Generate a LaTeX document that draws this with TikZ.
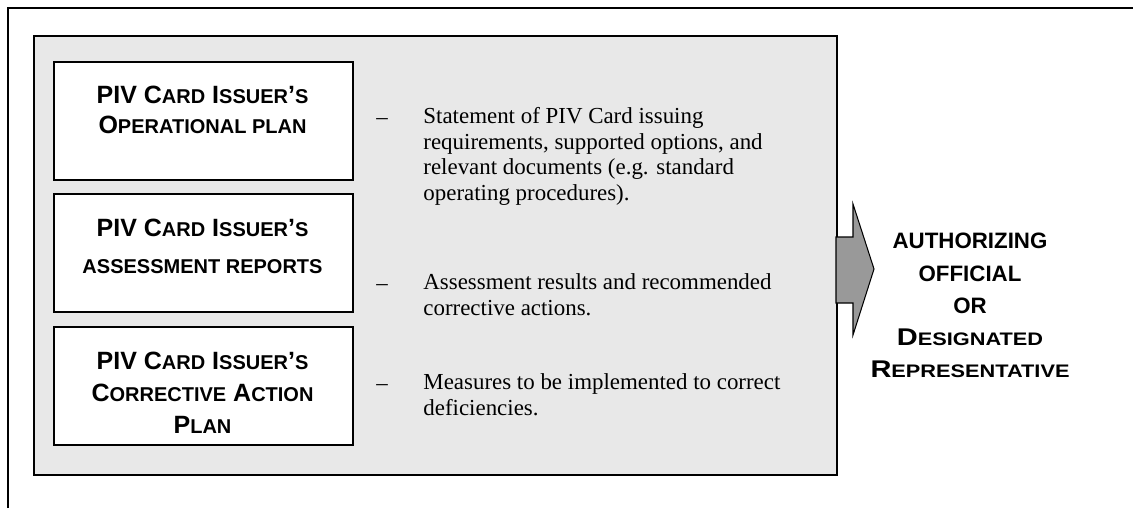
\documentclass[tikz,border=0pt]{standalone}
\usepackage{fontspec}
\usepackage{graphicx}
\setmainfont{Liberation Serif}
\newfontfamily\arialfont{Liberation Sans}
\usetikzlibrary{positioning}

% small capitals faked with a smaller size of Arial
\newcommand{\sm}[1]{{\fontsize{9.6}{10}\selectfont #1}}
% wide capitals for the official's title
\newcommand{\widecaps}[2]{\scalebox{1.2}[1]{\fontsize{11.6}{14}\selectfont #1{\fontsize{8.7}{10}\selectfont #2}}}

\begin{document}
\begin{tikzpicture}[
        x=0.48pt, y=-0.48pt,
        panel/.style={
            rectangle, draw=black, line width=0.9pt, fill=gray!18
        },
        issuerbox/.style={
            rectangle, draw=black, line width=0.8pt, fill=white,
            minimum width=143.5pt, minimum height=56.6pt, anchor=north west
        },
        boxtitle/.style={
            font=\arialfont\bfseries\fontsize{12}{14.4}\selectfont,
            align=center, anchor=base
        },
        desc/.style={
            font=\fontsize{11}{12.25}\selectfont,
            align=left, anchor=base west, inner sep=0pt
        },
        dashmark/.style={font=\fontsize{11}{12.25}\selectfont, anchor=base, inner sep=0pt}
    ]
        \useasboundingbox (0,0) rectangle (1133,508);

        % Marco exterior (solo arriba e izquierda)
        \draw[line width=0.9pt] (8,508) -- (8,8) -- (1133,8);

        % Panel gris con los documentos
        \node[panel, minimum width=385.4pt, minimum height=210.7pt, anchor=north west]
            (docs) at (33,35) {};

        % Cajas del emisor
        \node[issuerbox] (plan)   at (53,61)  {};
        \node[issuerbox] (report) at (53,193) {};
        \node[issuerbox] (action) at (53,326) {};

        % (el ancla base cae en la ultima linea)
        \node[boxtitle] (plantitle) at (202.5,133)
            {PIV C\sm{ARD} I\sm{SSUER}’\sm{S}\\ O\sm{PERATIONAL PLAN}};
        \node[boxtitle] (reporttitle) at (202.5,273)
            {PIV C\sm{ARD} I\sm{SSUER}’\sm{S}\\[2.9pt] \sm{ASSESSMENT REPORTS}};
        \node[boxtitle] (actiontitle) at (202.5,433)
            {PIV C\sm{ARD} I\sm{SSUER}’\sm{S}\\[1.4pt] C\sm{ORRECTIVE} A\sm{CTION}\\[0.5pt] P\sm{LAN}};

        % Descripciones
        \node[dashmark] (d1) at (382,124) {–};
        \node[desc] (plandesc) at (423,200.5)
            {Statement of PIV Card issuing\\
             requirements, supported options, and\\
             relevant documents (e.g. standard\\
             operating procedures).};

        \node[dashmark] (d2) at (382,290) {–};
        \node[desc] (reportdesc) at (423,315.5)
            {Assessment results and recommended\\
             corrective actions.};

        \node[dashmark] (d3) at (382,390) {–};
        \node[desc] (actiondesc) at (423,415.5)
            {Measures to be implemented to correct\\
             deficiencies.};

        % Flecha de bloque hacia el funcionario
        \draw[fill=gray!80, line width=0.5pt]
            (836,237) -- (853,237) -- (853,204) -- (874,269)
            -- (853,335) -- (853,303) -- (836,303) -- cycle;

        \node[font=\arialfont\bfseries\fontsize{10.7}{15.6}\selectfont, align=center, anchor=base]
            (official) at (970,377)
            {AUTHORIZING\\ OFFICIAL\\[-0.3pt] OR\\[0.2pt]
             \widecaps{D}{ESIGNATED}\\[-0.7pt]
             \widecaps{R}{EPRESENTATIVE}};

    \end{tikzpicture}
\end{document}
